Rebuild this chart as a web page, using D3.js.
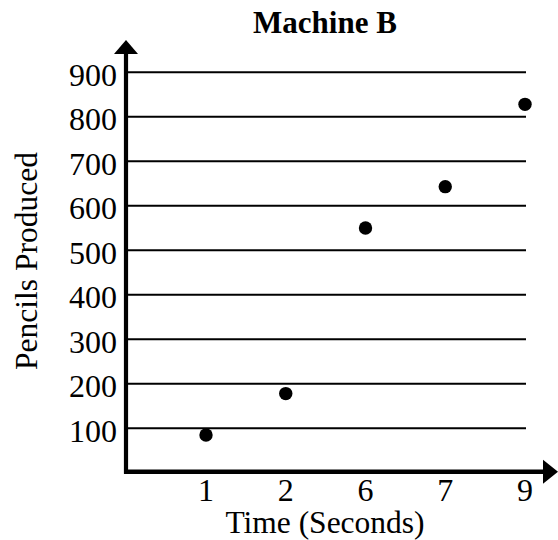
<!DOCTYPE html>
<html>
<head>
<meta charset="utf-8">
<script src="https://cdn.jsdelivr.net/npm/d3@7"></script>
<style>
  html, body { margin: 0; padding: 0; background: #fff; }
  text { font-family: "Liberation Serif", "Times New Roman", serif; fill: #000; }
</style>
</head>
<body>
<svg id="chart" width="558" height="540"></svg>
<script>
// data
let times = ["1", "2", "6", "7", "9"];
let pencils = [85, 178, 550, 643, 828];
let yTicks = [100, 200, 300, 400, 500, 600, 700, 800, 900];

let svg = d3.select("#chart");

let x = d3.scalePoint().domain(times).range([206, 525]);
let y = d3.scaleLinear().domain([0, 900]).range([472.8, 72.3]);

let axisX = 126, axisY = 471.7;

// gridlines
svg.selectAll(".grid")
  .data(yTicks).enter().append("line")
  .attr("class", "grid")
  .attr("x1", axisX).attr("x2", 526)
  .attr("y1", d => y(d)).attr("y2", d => y(d))
  .style("stroke", "#000")
  .style("stroke-width", 2);

// y tick labels
svg.selectAll(".ylab")
  .data(yTicks).enter().append("text")
  .attr("class", "ylab")
  .attr("x", 117)
  .attr("y", d => y(d) + 13.5)
  .attr("text-anchor", "end")
  .style("font-size", "32px")
  .text(d => d);

// x tick labels
svg.selectAll(".xlab")
  .data(times).enter().append("text")
  .attr("class", "xlab")
  .attr("x", d => x(d))
  .attr("y", 500.5)
  .attr("text-anchor", "middle")
  .style("font-size", "32px")
  .text(d => d);

// axes with arrowheads
svg.append("line")
  .attr("x1", axisX).attr("x2", axisX)
  .attr("y1", axisY + 2).attr("y2", 52)
  .style("stroke", "#000").style("stroke-width", 4.2);
svg.append("path")
  .attr("d", `M${axisX - 12},54 L${axisX},40 L${axisX + 12},54 Z`)
  .style("fill", "#000");

svg.append("line")
  .attr("x1", axisX - 2).attr("x2", 545)
  .attr("y1", axisY).attr("y2", axisY)
  .style("stroke", "#000").style("stroke-width", 4.5);
svg.append("path")
  .attr("d", `M543,${axisY - 12} L558,${axisY} L543,${axisY + 12} Z`)
  .style("fill", "#000");

// points
svg.selectAll(".dot")
  .data(times).enter().append("circle")
  .attr("class", "dot")
  .attr("cx", d => x(d))
  .attr("cy", (d, i) => y(pencils[i]))
  .attr("r", 6.7)
  .style("fill", "#000");

// titles
svg.append("text")
  .attr("x", 325).attr("y", 33.3)
  .attr("text-anchor", "middle")
  .style("font-size", "31px")
  .style("font-weight", "bold")
  .text("Machine B");

svg.append("text")
  .attr("x", 325).attr("y", 533)
  .attr("text-anchor", "middle")
  .style("font-size", "31.5px")
  .text("Time (Seconds)");

svg.append("text")
  .attr("transform", "translate(37,261) rotate(-90)")
  .attr("text-anchor", "middle")
  .style("font-size", "31.5px")
  .text("Pencils Produced");
</script>
</body>
</html>
